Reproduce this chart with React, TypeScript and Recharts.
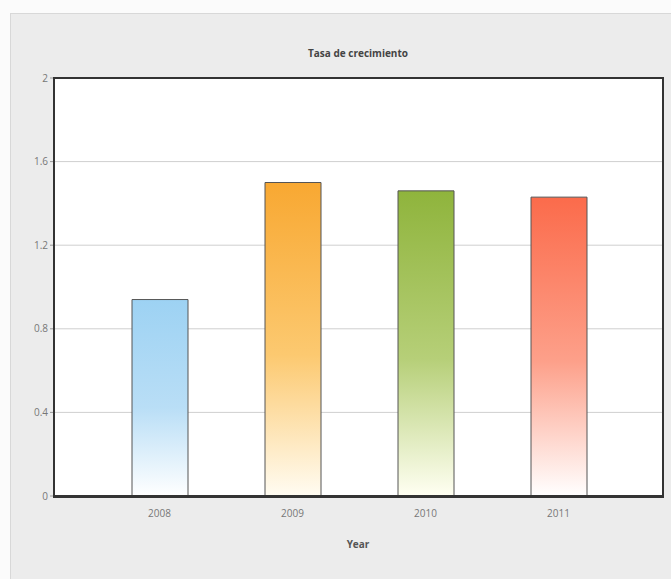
import { Bar, BarChart, CartesianGrid, Cell, XAxis, YAxis } from "recharts";

const years = ["2008", "2009", "2010", "2011"];
const growth = [0.94, 1.5, 1.46, 1.43];
const topColors = ["#9dd2f3", "#f8a832", "#8fb43c", "#fb6b4b"];
const midColors = ["#b9def6", "#fcc970", "#b6cf78", "#fda08a"];
const bottomColors = ["#ffffff", "#fffcf2", "#fffff2", "#ffffff"];
const yTicks = [0, 0.4, 0.8, 1.2, 1.6, 2];

const data = years.map((year, i) => ({ year, value: growth[i] }));

const tickStyle = { fontSize: 10, fill: "#777", fontFamily: "Open Sans" };

export default function App() {
  return (
    <div
      style={{
        position: "absolute",
        left: 0,
        top: 0,
        width: 671,
        height: 579,
        background: "#fbfbfb",
      }}
    >
      <div
        style={{
          position: "absolute",
          left: 10,
          top: 13,
          width: 661,
          height: 566,
          background: "#ececec",
          borderTop: "1px solid #d8d8d8",
          borderLeft: "1px solid #d8d8d8",
        }}
      />
      <div
        style={{
          position: "absolute",
          left: 0,
          top: 46,
          width: 716,
          textAlign: "center",
          fontFamily: "Open Sans",
          fontWeight: 700,
          fontSize: 10,
          color: "#444",
        }}
      >
        Tasa de crecimiento
      </div>
      <BarChart
        width={671}
        height={579}
        data={data}
        margin={{ top: 78, right: 9, bottom: 53, left: 10 }}
        style={{ position: "absolute", left: 0, top: 0 }}
      >
        <defs>
          {years.map((year, i) => (
            <linearGradient key={year} id={`grad-${i}`} x1="0" y1="0" x2="0" y2="1">
              <stop offset="0%" stopColor={topColors[i]} />
              <stop offset="55%" stopColor={midColors[i]} />
              <stop offset="100%" stopColor={bottomColors[i]} />
            </linearGradient>
          ))}
        </defs>
        <CartesianGrid vertical={false} stroke="#cfcfcf" fill="#ffffff" />
        <XAxis
          dataKey="year"
          padding={{ left: 39, right: 37 }}
          tickLine={false}
          axisLine={{ stroke: "#333", strokeWidth: 2 }}
          tick={tickStyle}
          tickMargin={8}
          height={30}
          label={{
            value: "Year",
            position: "insideBottom",
            offset: -22,
            style: { fontSize: 10, fontWeight: 700, fill: "#555", fontFamily: "Open Sans" },
          }}
        />
        <YAxis
          domain={[0, 2]}
          ticks={yTicks}
          width={44}
          tickSize={4}
          tickLine={{ stroke: "#999" }}
          axisLine={{ stroke: "#333", strokeWidth: 2 }}
          tick={tickStyle}
        />
        <Bar
          dataKey="value"
          barSize={56}
          stroke="#555"
          strokeWidth={1}
          isAnimationActive={false}
        >
          {data.map((d, i) => (
            <Cell key={d.year} fill={`url(#grad-${i})`} />
          ))}
        </Bar>
      </BarChart>
      {/* frame around the plot area */}
      <div
        style={{
          position: "absolute",
          left: 53,
          top: 77,
          width: 607,
          height: 417,
          border: "2px solid #333",
          pointerEvents: "none",
        }}
      />
    </div>
  );
}
